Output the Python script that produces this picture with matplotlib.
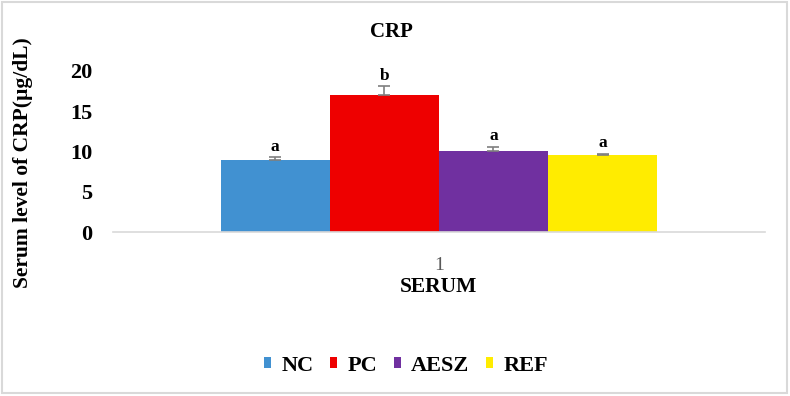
import matplotlib
matplotlib.use('Agg')

import matplotlib.pyplot as plt
import numpy as np

groups = ['NC', 'PC', 'AESZ', 'REF']
values = [9.0, 17.0, 10.1, 9.5]
errors = [0.3, 1.1, 0.5, 0.2]
letters = ['a', 'b', 'a', 'a']
colors = ['#4191d1', '#ee0000', '#7030a0', '#ffec00']
yticks = [0, 5, 10, 15, 20]

plt.rcParams['font.family'] = ['Liberation Serif', 'DejaVu Serif']
plt.rcParams['font.weight'] = 'bold'

fig = plt.figure(figsize=(7.9, 3.96), dpi=100)
ax = fig.add_axes([0.143, 0.414, 0.825, 0.407])

width = 0.1675
x = (np.arange(len(groups)) - (len(groups) - 1) / 2) * width
for i, g in enumerate(groups):
    # only the upper half of the error bar is drawn
    ax.bar(x[i], values[i], width, color=colors[i], label=g,
           yerr=[[0], [errors[i]]], ecolor='#7f7f7f',
           error_kw=dict(lw=1.2, capsize=4, capthick=1.2))
    ax.text(x[i], values[i] + errors[i] + 0.3, letters[i], ha='center',
            va='bottom', fontsize=12.5, fontweight='bold')

ax.set_xlim(-0.5, 0.5)
ax.set_ylim(0, 20)
ax.set_yticks(yticks)
ax.set_yticklabels([str(t) for t in yticks], fontsize=16, fontweight='bold')
ax.tick_params(axis='y', length=0, pad=15)
ax.set_xticks([0])
ax.set_xticklabels(['1'], fontsize=14, color='#595959', fontweight='normal')
ax.tick_params(axis='x', length=0, pad=18)
ax.set_xlabel('SERUM', fontsize=15.5, fontweight='bold', labelpad=2)
ax.set_ylabel('Serum level of CRP(µg/dL)', fontsize=15.5, fontweight='bold')
ax.yaxis.set_label_coords(-0.123, 0.43)

for s in ['top', 'right', 'left']:
    ax.spines[s].set_visible(False)
ax.spines['bottom'].set_color('#d9d9d9')
ax.spines['bottom'].set_linewidth(1.2)

fig.text(0.496, 0.919, 'CRP', ha='center', va='center', fontsize=15,
         fontweight='bold')

leg = fig.legend(loc='center', bbox_to_anchor=(0.514, 0.077), ncol=4,
                 frameon=False, fontsize=16, handlelength=0.33,
                 handleheight=0.33, handletextpad=0.45, columnspacing=0.75)

# light grey frame around the chart area
fig.patches.append(plt.Rectangle((0.003, 0.008), 0.993, 0.986,
                                 transform=fig.transFigure, fill=False,
                                 edgecolor='#d9d9d9', lw=1.5))

fig.savefig('out.png', dpi=100)
